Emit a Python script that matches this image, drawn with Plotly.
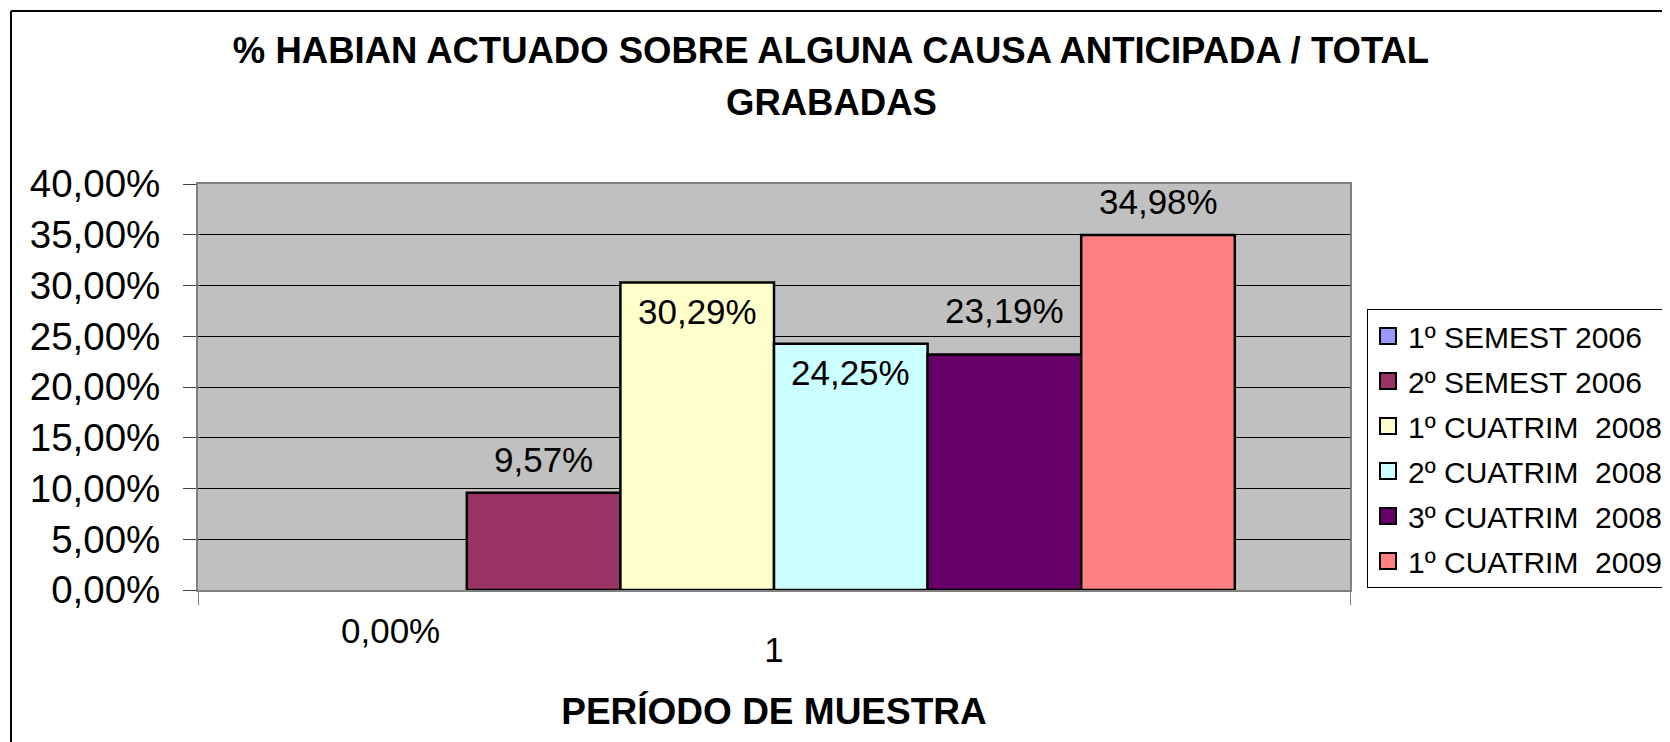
import plotly.graph_objects as go

# ---- data ----
categories = ["1"]
series_names = ["1º SEMEST 2006", "2º SEMEST 2006", "1º CUATRIM&nbsp;&nbsp;2008",
                "2º CUATRIM&nbsp;&nbsp;2008", "3º CUATRIM&nbsp;&nbsp;2008", "1º CUATRIM&nbsp;&nbsp;2009"]
series_values = [0.00, 9.57, 30.29, 24.25, 23.19, 34.98]
series_colors = ["#9999FF", "#993366", "#FFFFCC", "#CCFFFF", "#660066", "#FF8080"]
y_ticks = [0, 5, 10, 15, 20, 25, 30, 35, 40]
y_tick_labels = [f"{v:.2f}".replace(".", ",") + "%" for v in y_ticks]
title_line1 = "% HABIAN ACTUADO SOBRE ALGUNA CAUSA ANTICIPADA / TOTAL"
title_line2 = "GRABADAS"
x_title = "PERÍODO DE MUESTRA"
# label vertical offsets (px) relative to bar top, as placed in the source
label_shift = [-40, 33, -29, -29, 44, 33]

FONT = "Liberation Sans, Arial, sans-serif"
n = len(series_values)
group_frac = 0.8
W, H = 1662, 734
L, R, T, B = 190, 320, 176, 152
PW, PH = W - L - R, H - T - B

fig = go.Figure()
for name, val, col in zip(series_names, series_values, series_colors):
    fig.add_trace(go.Bar(
        x=categories, y=[val], name=name, showlegend=False,
        marker=dict(color=col, line=dict(color="black", width=2.5 if val > 0 else 0)),
        hoverinfo="skip",
    ))

# legend entries
for i, (name, col) in enumerate(zip(series_names, series_colors)):
    fig.add_trace(go.Scatter(
        x=[None], y=[None], mode="markers", name=name, legendgroup=f"g{i}",
        marker=dict(symbol="square", size=16, color=col, line=dict(color="black", width=2)),
    ))

# data labels
for i, val in enumerate(series_values):
    xpos = (i - (n - 1) / 2) * group_frac / n
    fig.add_annotation(
        x=xpos, y=val, xref="x", yref="y", yshift=label_shift[i],
        text=f"{val:.2f}".replace(".", ",") + "%", showarrow=False,
        font=dict(family=FONT, size=35, color="black"),
    )

# second title line
fig.add_annotation(
    x=(823 - L) / PW, y=(H - B - 95) / PH, xref="paper", yref="paper",
    xanchor="center", yanchor="middle", showarrow=False,
    text=f"<b>{title_line2}</b>",
    font=dict(family=FONT, size=36.5, color="black"),
)

# outer chart frame (only its top and left sides fall inside the picture)
fx0, fy0 = (3 - L) / PW, (H - B - 3) / PH
fig.add_shape(type="line", xref="paper", yref="paper",
              x0=fx0, x1=(W - L) / PW, y0=fy0, y1=fy0,
              line=dict(color="black", width=2), layer="below")
fig.add_shape(type="line", xref="paper", yref="paper",
              x0=fx0, x1=fx0, y0=fy0, y1=(H - B - H) / PH,
              line=dict(color="black", width=2), layer="below")

fig.update_layout(
    width=W, height=H,
    paper_bgcolor="white", plot_bgcolor="#C0C0C0",
    separators=",.",
    margin=dict(l=L, r=R, t=T, b=B, autoexpand=False),
    barmode="group", bargap=0.2, bargroupgap=0,
    title=dict(
        text=f"<b>{title_line1}</b>",
        x=(823 - L) / PW, xanchor="center", xref="paper",
        y=1 - 42 / H, yanchor="middle", yref="container",
        font=dict(family=FONT, size=36.5, color="black"),
    ),
    legend=dict(
        x=(1359 - L) / PW, xanchor="left",
        y=(H - B - 301) / PH, yanchor="top",
        bgcolor="white", bordercolor="black", borderwidth=1,
        font=dict(family=FONT, size=30, color="black"),
        tracegroupgap=3, traceorder="grouped",
        itemsizing="trace",
    ),
    xaxis=dict(
        type="category", showgrid=False,
        showline=True, linecolor="#808080", linewidth=2, mirror=True,
        ticks="outside", tickson="boundaries", ticklen=13, tickcolor="#808080",
        tickfont=dict(family=FONT, size=35, color="black"),
        ticklabelstandoff=28,
        title=dict(text=f"<b>{x_title}</b>", standoff=30,
                   font=dict(family=FONT, size=37, color="black")),
        automargin=False,
    ),
    yaxis=dict(
        range=[0, 40], tickvals=y_ticks, ticktext=y_tick_labels,
        showgrid=True, gridcolor="black", gridwidth=1,
        showline=True, linecolor="#808080", linewidth=2, mirror=True,
        ticks="outside", ticklen=13, tickcolor="#404040",
        tickfont=dict(family=FONT, size=38.5, color="black"),
        ticklabelstandoff=15,
        zeroline=False, automargin=False,
    ),
)

fig.write_html("out.html")
